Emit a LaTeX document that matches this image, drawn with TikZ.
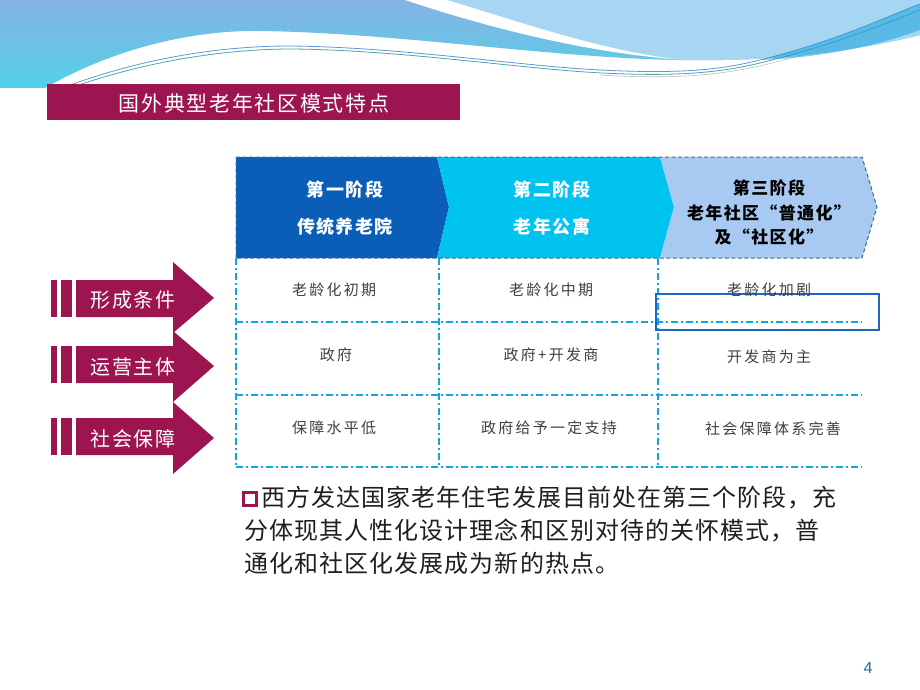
\documentclass[tikz,border=0pt]{standalone}
\usepackage{fontspec}
\newfontfamily\cjk{Noto Sans CJK SC}
\newfontfamily\cjkA{Noto Sans CJK SC}[LetterSpace=8]
\newfontfamily\cjkB{Noto Sans CJK SC}[LetterSpace=15]
\newfontfamily\cjkC{Noto Sans CJK SC}[LetterSpace=4.5]
\setsansfont{Liberation Sans}
\definecolor{mag}{HTML}{9C1550}
\definecolor{sone}{HTML}{0A5EB8}
\definecolor{stwo}{HTML}{00C3F0}
\definecolor{sthree}{HTML}{A8C9F1}
\definecolor{tcyan}{HTML}{12A6DE}
\definecolor{hblue}{HTML}{1E68C4}
\definecolor{dashc}{HTML}{3A6E8E}
\definecolor{wavetop}{HTML}{86B2E2}
\definecolor{wavebot}{HTML}{52D2E8}
\definecolor{waveright}{HTML}{A6D6F2}
\definecolor{pnum}{HTML}{1F6E8C}
\begin{document}
\begin{tikzpicture}[x=1pt,y=-1pt,
  cell/.style={font=\cjkB\fontsize{15}{18}\selectfont, text=black!75, inner sep=0pt},
  stgw/.style={font=\cjkA\bfseries\fontsize{18}{20}\selectfont, text=white, inner sep=0pt},
  stgb/.style={font=\cjkA\bfseries\fontsize{17}{20}\selectfont, text=black, inner sep=0pt},
  lbl/.style={font=\cjkA\fontsize{20}{24}\selectfont, text=white, inner sep=0pt},
  dd/.style={draw=tcyan, line width=1.5pt, dash pattern=on 7pt off 3pt on 2pt off 3pt},
  bodytxt/.style={font=\cjkC\fontsize{24}{33}\selectfont, text=black!88, align=left, inner sep=0pt, anchor=north west}
]
\fill[white] (0,0) rectangle (920,690);
\useasboundingbox (0,0) rectangle (920,690);

% ---- header wave ----
\shade[top color=wavetop, bottom color=wavebot]
  (0,0) -- (920,0) -- (920,35) .. controls (860,50) and (780,62) .. (680,60)
  .. controls (550,58) and (400,33) .. (260,31)
  .. controls (200,30) and (120,45) .. (45,88) -- (0,88) -- cycle;
\fill[waveright]
  (445,0) .. controls (520,25) and (600,55) .. (680,60)
  .. controls (780,62) and (860,50) .. (920,35) -- (920,0) -- cycle;
\fill[white]
  (405,0) .. controls (480,25) and (580,52) .. (675,59)
  .. controls (600,50) and (520,22) .. (447,0) -- cycle;
\draw[hblue!70, line width=0.8pt]
  (62,88) .. controls (150,55) and (230,46) .. (290,46)
  .. controls (400,47) and (520,66) .. (600,70)
  .. controls (680,74) and (720,70) .. (760,60)
  .. controls (840,40) and (890,15) .. (920,4);
\draw[teal!70, line width=0.8pt]
  (70,88) .. controls (155,58) and (235,49) .. (292,49)
  .. controls (402,50) and (522,69) .. (602,73)
  .. controls (682,77) and (724,72) .. (764,62)
  .. controls (844,42) and (894,20) .. (920,10);
\draw[gray!50, line width=0.6pt]
  (600,75) .. controls (680,80) and (726,74) .. (768,64)
  .. controls (848,44) and (896,26) .. (920,16);
\fill[stwo!60!hblue, opacity=0.5]
  (760,60) .. controls (840,40) and (890,15) .. (920,4) -- (920,30)
  .. controls (880,45) and (820,58) .. (760,60) -- cycle;

% ---- title bar ----
\fill[mag] (47,84) rectangle (460,120);
\node[font=\cjkA\fontsize{21}{24}\selectfont, text=white, inner sep=0pt] (title) at (254,103) {国外典型老年社区模式特点};

% ---- stage band ----
\fill[sone] (236,157) -- (437,157) -- (449,207) -- (437,258) -- (236,258) -- cycle;
\fill[stwo] (437,157) -- (660,157) -- (674,207) -- (660,258) -- (437,258) -- (449,207) -- cycle;
\fill[sthree] (660,157) -- (862,157) -- (877,207) -- (862,258) -- (660,258) -- (674,207) -- cycle;
\draw[dashc, line width=1pt, dash pattern=on 4pt off 2.5pt]
  (236,157) -- (862,157) -- (877,207) -- (862,258) -- (236,258) -- cycle;

\node[stgw] (s1a) at (345,190) {第一阶段};
\node[stgw] (s1b) at (345,227) {传统养老院};
\node[stgw] (s2a) at (552,190) {第二阶段};
\node[stgw] (s2b) at (552,227) {老年公寓};
\node[stgb] (s3a) at (769,188) {第三阶段};
\node[stgb] (s3b) at (769,213) {老年社区“普通化”};
\node[stgb] (s3c) at (769,237) {及“社区化”};

% ---- table ----
\draw[dd] (236,258) -- (236,467);
\draw[dd] (439,258) -- (439,467);
\draw[dd] (658,258) -- (658,467);
\draw[dd] (236,322) -- (862,322);
\draw[dd] (236,395) -- (862,395);
\draw[dd] (236,467) -- (862,467);
\draw[hblue, line width=2.2pt] (656,294) rectangle (879,330);

\node[cell] (c11) at (334,290) {老龄化初期};
\node[cell] (c12) at (551,290) {老龄化中期};
\node[cell] (c13) at (769,290) {老龄化加剧};
\node[cell] (c21) at (336,355) {政府};
\node[cell] (c22) at (551,355) {政府+开发商};
\node[cell] (c23) at (769,357) {开发商为主};
\node[cell] (c31) at (334,428) {保障水平低};
\node[cell] (c32) at (549,428) {政府给予一定支持};
\node[cell] (c33) at (773,429) {社会保障体系完善};

% ---- left arrows ----
\foreach \t/\b/\ht/\hb/\tip in {280/317/262/333/298, 346/383/331/402/366, 418/455/402/474/438}{
  \fill[mag] (51,\t) rectangle (57,\b);
  \fill[mag] (61,\t) rectangle (72,\b);
  \fill[mag] (76,\t) -- (173,\t) -- (173,\ht) -- (214,\tip) -- (173,\hb) -- (173,\b) -- (76,\b) -- cycle;
}
\node[lbl] (l1) at (133,300) {形成条件};
\node[lbl] (l2) at (133,367) {运营主体};
\node[lbl] (l3) at (133,439) {社会保障};

% ---- bottom text ----
\node[draw=mag, line width=2.5pt, minimum width=13pt, minimum height=13pt, inner sep=0pt] (bul) at (250,499) {};
\node[bodytxt] (body) at (244,486) {\hspace*{17pt}西方发达国家老年住宅发展目前处在第三个阶段，充\\分体现其人性化设计理念和区别对待的关怀模式，普\\通化和社区化发展成为新的热点。};

% ---- page number ----
\node[font=\sffamily\fontsize{16}{18}\selectfont, text=pnum, inner sep=0pt] (pg) at (868,668) {4};
\end{tikzpicture}
\end{document}
